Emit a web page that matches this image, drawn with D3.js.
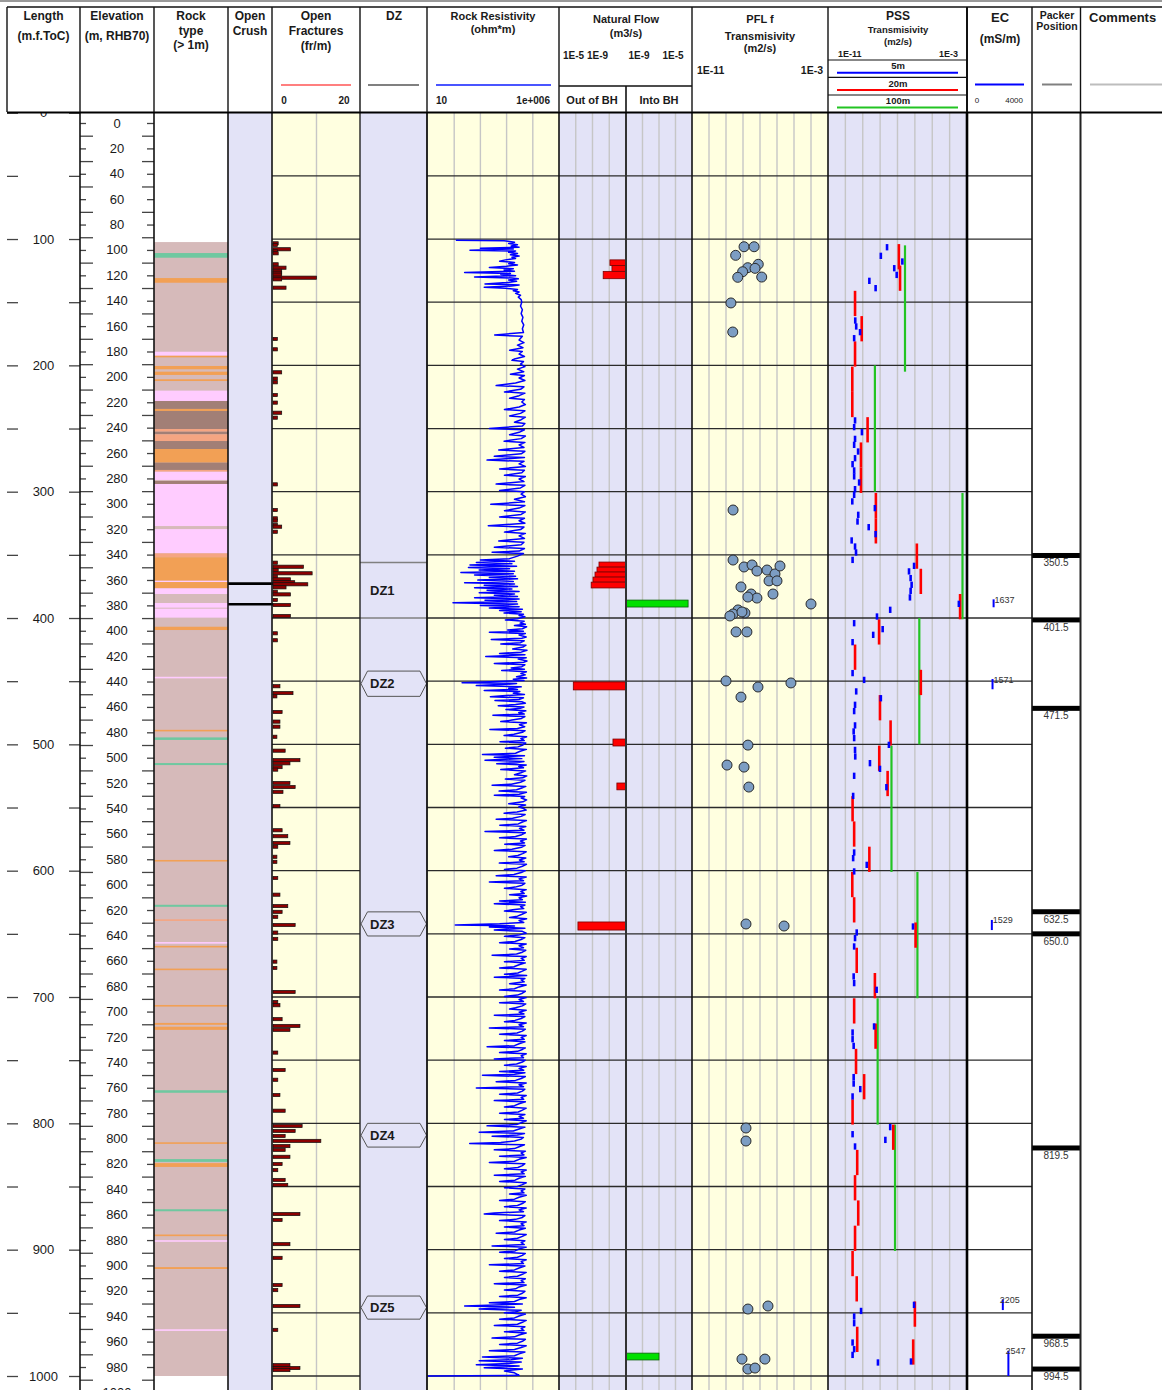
<!DOCTYPE html>
<html>
<head>
<meta charset="utf-8">
<script src="https://cdn.jsdelivr.net/npm/d3@7"></script>
<style>
  body { margin: 0; background: #fff; }
  svg { display: block; font-family: "Liberation Sans", Arial, Helvetica, sans-serif; }
</style>
</head>
<body>
<svg id="log" width="1162" height="1390"></svg>
<script>
// ---------------- Borehole data ----------------

// Lithology intervals [top m, bottom m, code]; the host rock fills the logged length first
const rockHost = [102.4, 1000, "VGN"];
const rockIntervals = [
  [111.1,114.8,"AMP"],[130.9,134.6,"PGR"],[189.2,192.4,"TGG"],[192.4,193.6,"PGR"],
  [200.5,203.1,"PGR"],[205,207.6,"PGR"],[211,212.4,"PGR"],[220,228.2,"TGG"],
  [228.2,234.5,"MGN"],[234.5,236.1,"PGR"],[236.1,250.4,"MGN"],[250.4,252.5,"KFP"],
  [252.5,254.6,"MGN"],[254.6,259.9,"KFP"],[259.9,266.2,"MGN"],[266.2,277,"PGR"],
  [277,282.8,"MGN"],[282.8,284.2,"KFP"],[284.2,290.7,"TGG"],[291.5,293.9,"MGN"],
  [293.9,327.2,"TGG"],[329.6,348.8,"TGG"],[348.8,351.9,"KFP"],[351.9,370.5,"PGR"],
  [370.5,371.5,"TGG"],[371.5,376.5,"PGR"],[376.5,381,"TGG"],[388.1,391.8,"TGG"],
  [392.6,399.7,"TGG"],[406.9,409.5,"PGR"],[446.5,447.7,"TGG"],[488.5,489.7,"PGR"],
  [494.5,496.5,"AMP"],[514.8,516.4,"AMP"],[591.5,592.7,"PGR"],[627,628.6,"AMP"],
  [638.5,639.3,"KFP"],[656.5,657.5,"TGG"],[659.5,660.5,"PGR"],[677.5,678.5,"PGR"],
  [706.3,707.3,"PGR"],[720.5,722,"PGR"],[723.5,726,"PGR"],[773.8,775.8,"AMP"],
  [815,816,"PGR"],[828.3,830.5,"AMP"],[831.5,834.5,"PGR"],[868,869.6,"AMP"],
  [888,889.3,"PGR"],[892.5,893.7,"TGG"],[913.8,915.3,"PGR"],[963,964.3,"TGG"]
];
const rockColors = { VGN:"#d6baba", AMP:"#6fc8a0", PGR:"#f2a055", TGG:"#ffccff", MGN:"#a27f76", KFP:"#f5a582" };

// Open crush zones (m)
const crushDepths = [372.8, 389.1];

// Open fractures [depth m, fractures per metre]
const fractures = [
  [103.4,1.2],[104.7,1],[108.1,4],[109.7,1],[111.3,1.2],[120,1.2],[122.7,3],[125.1,2],[126.7,2],
  [128.2,2],[130.6,10],[131.9,2],[138.5,3],[179.1,1],[187.3,1],[205.5,2],[210.5,1],[213.4,1],
  [223.5,1],[229.5,1],[237.5,2],[241.4,1],[294.2,1],[314.5,1],[321.1,1],[322.9,1],[326.4,1],
  [327.7,2],[331.7,1],[356.2,1],[359.4,7],[362,1.2],[364.6,9],[367.3,1],[369.4,4],[371.7,5],
  [373.3,8],[375.7,3],[379.2,1],[381.3,4],[385.7,1],[389.7,4],[398.4,4],[412.1,1],[417.6,1],
  [454,1.6],[459.4,4.6],[462,0.9],[474.4,2.1],[482,1.6],[486,1.6],[494,0.9],[505,2.8],
  [512.5,6.2],[515,3.9],[518,2.1],[520,1.1],[530.6,3.9],[533.8,5.1],[537.6,2.3],[548.9,1.6],
  [568,2.1],[572.7,3.4],[578.1,3.9],[581,1.1],[589,0.9],[593,0.9],[605.8,1.1],[619,1.6],
  [628,3.4],[632.6,2.1],[636.5,1.1],[643,5.1],[649,1.1],[654,1.1],[672,0.9],[677,0.9],
  [696,5.1],[704,1.1],[706.5,1.6],[717.5,2.1],[722.9,6.2],[726,3.9],[744,1.1],[757.8,2.8],
  [765.5,1.1],[777.6,1.6],[790,2.8],[802.1,6.7],[806,5.1],[810,2.8],[813.9,11],[818,3.9],
  [821,2.8],[826.5,3.9],[832.2,2.1],[837,1.1],[844.8,2.8],[848.8,3.4],[871.8,6.2],[876.5,2.1],
  [895.6,3.9],[906.5,2.1],[928,2.1],[932,1.1],[944.6,6.2],[963.5,1.1],[991.4,3.9],[993.7,6.2],
  [995.3,3.9]
];

// Deformation zones [name, top m, bottom m]
const dzZones = [["DZ1",356,400],["DZ2",442,462],["DZ3",632.6,651.7],["DZ4",800,818.8],["DZ5",936.7,955]];

// Rock resistivity log [depth m, ohm*m]
const resistivity = [
  [101,115],[101.4,8000],[102.5,20000],[103.5,12000],[104.5,26000],[105.5,15000],[106.5,30000],[107.2,1000],
  [107.8,18000],[108.8,400],[109.5,22000],[110.5,12000],[111.5,26000],[112.5,14000],[113.5,30000],[114.5,16000],
  [115.5,22000],[116.5,9000],[117.5,5400],[118.5,20000],[119.5,12000],[120.5,26000],[121.5,10000],[122.5,2200],
  [123.5,18000],[124.5,8000],[125.5,20000],[126.5,250],[127.2,14000],[128,6000],[129,22000],[130,600],
  [130.8,16000],[131.5,28000],[132.5,12000],[133.5,24000],[134.5,10000],[135.5,1500],[136.3,30000],[137.2,15000],
  [138.2,1400],[139,9000],[140,26000],[141,18000],[142,30000],[143,22000],[144.5,34000],[146,28000],[148,36000],
  [150,38000],[153,34000],[156,40000],[159,36000],[162,42000],[165,38000],[168,45000],[171,40000],[174,44000],
  [176,3500],[177,40000],[180,30000],[182,46000],[184,26000],[186,42000],[188,13000],[189,40000],[191,30000],
  [193,48000],[195,20000],[196,16000],[197,44000],[199,34000],[201,50000],[203,26000],[205,45000],[207,14000],
  [208,48000],[210,30000],[212,50000],[214,22000],[216,4000],[217,46000],[219,34000],[221,8300],[222,50000],
  [224,30000],[226,13000],[227,48000],[229,38000],[231,52000],[233,30000],[235,8300],[236,50000],[238,34000],
  [240,13000],[241,52000],[243,36000],[245,20000],[246,50000],[248,40000],[250,2200],[251,48000],[253,30000],
  [255,13000],[256,52000],[258,36000],[260,8000],[261,50000],[263,30000],[265,46000],[267,5000],[268,50000],
  [270,36000],[272,3400],[273,48000],[275,1800],[276,46000],[278,30000],[280,52000],[282,5400],[283,48000],
  [285,38000],[287,8300],[288,52000],[290,30000],[292,46000],[294,4000],[295,50000],[297,34000],[299,5400],
  [300,48000],[302,36000],[304,52000],[306,20000],[308,48000],[310,2500],[311,50000],[313,30000],[315,8300],
  [316,52000],[318,36000],[320,5400],[321,48000],[323,30000],[325,50000],[327,2000],[328,46000],[330,34000],
  [332,8300],[333,52000],[335,30000],[337,48000],[339,5000],[340,46000],[342,36000],[344,3400],[345,48000],
  [347,30000],[348,2800],[349,44000],[351,26000],
  [353,13000],[354,1000],[355,20000],[356,700],[357,16000],[358,400],[359,24000],[360,350],[361,13000],
  [362,900],[363,20000],[364,180],[365,18000],[366,600],[367,22000],[368,2200],[369,26000],[370,800],
  [371,18000],[372,250],[373,20000],[374,1400],[375,26000],[376,600],[377,16000],[378,1800],[379,30000],
  [380,900],[381,20000],[382,3400],[383,26000],[384,600],[385,30000],[386,1500],[387,24000],[388,90],
  [389,26000],[390,1000],[391,30000],[392,2200],[393,40000],[394,5400],[395,36000],[396,8000],[397,44000],
  [398,30000],[399,50000],[400.5,26000],[401.5,9000],[402.5,47000],[404,33000],[405,52000],[406,20000],[407,58000],
  [408.5,40000],[409.5,11000],[410.5,44000],[411.3,2200],[412.2,52000],[413.5,30000],[415,56000],[416,38000],
  [417,2600],[418,47000],[419.5,34000],[420.5,6000],[421.5,55000],[423,42000],[424.5,17000],[425.5,60000],
  [427,36000],[428,5400],[429,50000],[430.5,1600],[431.5,56000],[432.5,28000],[434,60000],[435,45000],[436,3400],
  [437,50000],[438.5,38000],[439.5,15000],[440.5,48000],[441.5,6500],[442.5,57000],[444,35000],[445,52000],
  [446.5,24000],[447.5,58000],[448.5,18000],[449.5,46000],[451.2,200],[451.8,24000],[452.5,9000],[453.5,700],
  [454.5,36000],[455.5,12000],[456.5,26000],[457.3,1400],[458.2,32000],[459.5,18000],[460.5,48000],[461.5,7000],
  [462.3,2400],[463.2,44000],[464.5,30000],[465.3,3600],[466.3,38000],[467.5,52000],[468.5,22000],[469.5,4800],
  [470.5,46000],[471.5,33000],[472.5,9500],[473.5,54000],[475,29000],[476,47000],[477,3000],[478,50000],
  [479.5,37000],[481,14000],[482,6000],[483,57000],[484.5,31000],[486,49000],[487.5,26000],[488.2,2300],
  [489.2,51000],[490.5,40000],[492,19000],[493,8000],[494,58000],[495.5,35000],[497,47000],[498,5600],[499,54000],
  [500.5,42000],[502,27000],[503,9000],[504,57000],[505.5,33000],[507,22000],[508,1200],[509,48000],[510.3,3400],
  [511.3,38000],[512.5,1500],[513.5,46000],[514.5,24000],[515.3,4200],[516.3,56000],[517.5,29000],[518.5,44000],
  [520,6000],[521,53000],[522.5,35000],[524,20000],[525,59000],[526.5,41000],[527.5,9000],[528.5,50000],
  [530,34000],[531.5,15000],[532.3,2800],[533.3,54000],[534.5,38000],[536,24000],[537,5200],[538,57000],
  [539.5,30000],[540.3,3400],[541.3,49000],[542.5,36000],[544,58000],[545.5,42000],[547,12000],[548,53000],
  [549.5,29000],[551,47000],[552,56000],[553.5,25000],[554.5,8000],[555.5,51000],[557,36000],[558.5,17000],
  [559.3,4000],[560.3,57000],[561.5,40000],[563,28000],[564,5500],[565,54000],[566.5,31000],[568,46000],
  [569,1500],[570,52000],[571.5,38000],[573,22000],[574,5400],[575,57000],[576.5,34000],[578,48000],[579,8500],
  [580,51000],[581.5,37000],[583,16000],[584,3400],[585,56000],[586.5,41000],[588,27000],[589,12000],[590,54000],
  [591.5,31000],[593,47000],[594,5300],[595,57000],[596.5,40000],[598,25000],[599,8300],[600,52000],[601.5,36000],
  [603,19000],[604,4000],[605,56000],[606.5,30000],[608,44000],[609,2200],[610,50000],[611.5,39000],[613,21000],
  [614,8300],[615,56000],[616.5,35000],[618,47000],[619,13000],[620,58000],[621.5,30000],[623,40000],[624,5400],
  [625,52000],[626.2,3400],[627.2,50000],[628.5,34000],[630,45000],[631,17000],[632,8300],[633,56000],
  [634.5,39000],[636,26000],[637,13000],[638,58000],[639.5,30000],[641,45000],[642,5400],[643,110],[643.7,20000],
  [644.5,2200],[645.5,50000],[647,3400],[648,40000],[649.5,56000],[651,28000],[652,8300],[653,50000],[654.5,36000],
  [656,21000],[657,5400],[658,56000],[659.5,30000],[661,44000],[662,13000],[663,54000],[664.5,40000],[666,24000],
  [667,2800],[668,56000],[669.5,36000],[671,47000],[672,8300],[673,52000],[674.5,30000],[676,19000],[677,5400],
  [678,56000],[679.5,40000],[681,27000],[682,8300],[683,58000],[684.3,3400],[685.3,50000],[686.5,36000],
  [688,47000],[689.5,13000],[690.5,56000],[692,30000],[693.5,20000],[694.5,5400],[695.5,52000],[697,40000],
  [698.5,26000],[699.5,8300],[700.5,56000],[702,30000],[703.5,44000],[704.5,5400],[705.5,54000],[707,40000],
  [708.5,22000],[709.5,13000],[710.5,56000],[712,30000],[713.5,46000],[714.5,3400],[715.5,50000],[717,36000],
  [718.5,21000],[719.5,8300],[720.5,56000],[722,30000],[723.5,44000],[724.5,2200],[725.5,52000],[727,40000],
  [728.5,25000],[729.5,5400],[730.5,56000],[732,36000],[733.5,47000],[734.5,8300],[735.5,50000],[737,30000],
  [738.5,20000],[739.3,1800],[740.3,52000],[741.5,40000],[743,26000],[744,5400],[745,56000],[746.5,36000],
  [748,44000],[749,3400],[750,52000],[751.5,40000],[753,24000],[754,8300],[755,56000],[756.5,30000],[758,45000],
  [759,5400],[760,50000],[761.2,20000],[762,1200],[763,52000],[764.5,36000],[766,22000],[767,4000],[768,56000],
  [769.5,30000],[771,44000],[772,700],[773,50000],[774.5,40000],[776,26000],[777,5400],[778,56000],[779.5,36000],
  [781,45000],[782,3400],[783,52000],[784.5,30000],[786,20000],[787,8300],[788,56000],[789.5,40000],[791,28000],
  [792,5400],[793,50000],[794.5,30000],[796,44000],[797,8300],[798,56000],[799.5,36000],[801,24000],[802,1800],
  [803,50000],[804.5,30000],[806,18000],[807,900],[808,48000],[809.3,26000],[810.2,2800],[811.2,44000],
  [812.5,36000],[814,20000],[815.2,6000],[816,390],[817,48000],[818.5,30000],[820,20000],[821,3400],[822,52000],
  [823.5,36000],[825,46000],[826,5400],[827,56000],[828.5,30000],[830,20000],[831,2200],[832,50000],[833.5,40000],
  [835,27000],[836,8300],[837,56000],[838.5,36000],[840,47000],[841,3400],[842,52000],[843.5,30000],[845,21000],
  [846,5400],[847,56000],[848.5,40000],[850,26000],[851,8300],[852,50000],[853.5,36000],[855,46000],[856,13000],
  [857,56000],[858.5,30000],[860,20000],[861,5400],[862,52000],[863.5,40000],[865,26000],[866,8300],[867,56000],
  [868.5,30000],[870,44000],[871,3400],[871.8,1400],[873,50000],[874.5,40000],[876,22000],[877,5400],[878,56000],
  [879.5,36000],[881,46000],[882,8300],[883,52000],[884.5,30000],[886,20000],[887,4000],[888,56000],[889.5,40000],
  [891,26000],[892,8300],[893,50000],[894.5,36000],[896,47000],[897,2800],[898,56000],[899.5,30000],[901,21000],
  [902,5400],[903,52000],[904.5,40000],[906,26000],[907,8300],[908,56000],[909.5,36000],[911,44000],[912,2200],
  [913,50000],[914.5,30000],[916,20000],[917,5400],[918,56000],[919.5,40000],[921,26000],[922,8300],[923,52000],
  [924.5,36000],[926,46000],[927,3400],[928,56000],[929.5,30000],[931,22000],[932,8300],[933,50000],[934.5,40000],
  [936,27000],[937,5400],[938,56000],[939.5,30000],[941,20000],[942,2200],[943,40000],[944.6,250],[945.5,20000],
  [947,900],[948,36000],[949.2,22000],[950,8300],[951,52000],[952.5,30000],[954,20000],[955,5400],[956,56000],
  [957.5,40000],[959,26000],[960,3400],[961,50000],[962.5,36000],[964,46000],[965,8300],[966,56000],[967.5,30000],
  [969,20000],[970,2800],[971,52000],[972.5,40000],[974,26000],[975,5400],[976,56000],[977.5,36000],[979,20000],
  [980,2200],[981,50000],[982.5,30000],[984,20000],[985,1200],[986,40000],[987.2,15000],[988,900],[989,36000],
  [990.2,12000],[991,700],[992,30000],[993.5,1400],[994.5,40000],[996,8300],[997.5,20000],[999.5,30000],[1000,10]
];

// Natural flow [top m, bottom m, flow m3/s]
const flowOut = [
  [116.5,120.9,9.1e-9],[121,125.6,6.9e-9],[125.6,131.4,2.3e-8],
  [355.7,359.7,4.1e-8],[359.7,363.6,5.4e-8],[363.6,367.6,7.1e-8],[367.6,371.6,9.3e-8],[371.6,376.2,1.2e-7],
  [450.6,456.9,1.4e-6],[495.8,501.3,6e-9],[530.6,536,3.5e-9],[640.6,647,7.4e-7]
];
const flowIn = [[385.8,391.3,5.8e-6],[981.9,987.3,1e-7]];

// PFL flowing-fracture transmissivity [depth m, m2/s]
const pflT = [
  [106.1,1.15e-8],[106.1,4.5e-8],[112.9,3.7e-9],[122.7,1.9e-8],[120,7.9e-8],[123.2,5.1e-8],[125.9,9.5e-9],
  [130.3,4.9e-9],[130.1,1.26e-7],[150.6,1.95e-9],[173.6,2.5e-9],[314.5,2.6e-9],[354.1,2.6e-9],[359.6,1.15e-8],
  [358,3.4e-8],[362.8,6.6e-8],[375.4,7.6e-9],[362,2.6e-7],[365.1,7.6e-7],[358.8,1.5e-6],[370.6,3.4e-7],
  [370.6,1e-6],[381,3e-8],[384.2,6.6e-8],[383.4,1.95e-8],[381,5.8e-7],[388.9,1e-4],[393.6,5.1e-9],
  [396,1.3e-8],[396.8,2.6e-9],[398.4,1.7e-9],[395.2,8.7e-9],[411,3.9e-9],[411,1.7e-8],[449.8,1e-9],
  [454.6,7.6e-8],[451.4,6.6e-6],[462.6,7.6e-9],[500.6,1.95e-8],[516.4,1.15e-9],[518,1.15e-8],[533.8,2.2e-8],
  [642.2,1.5e-8],[643.8,2.6e-6],[803.7,1.5e-8],[814,1.5e-8],[947,1.95e-8],[944.6,2.95e-7],[986.6,8.7e-9],
  [986.6,1.95e-7],[994.5,1.95e-8],[993.7,5.1e-8]
];

// PSS transmissivity by test section length [section top m, m2/s]
const pss5m = [
  [104,2.5e-8],[110.8,1.1e-8],[115.3,1.9e-7],[120.6,6.5e-8],[125.9,9e-8],[130.6,2.4e-9],[136.4,5.5e-9],
  [162,3.7e-10],[166.7,4.2e-10],[171.2,7e-10],[176,3.2e-10],[241.1,3.6e-10],[246.4,3.2e-10],[250.4,9e-10],
  [255.7,3.6e-10],[260.4,3.2e-10],[265.7,5.4e-10],[271,3.6e-10],[275.7,2.6e-10],[280.7,3.2e-10],[285.4,3.2e-10],
  [290.2,6.2e-10],[295.5,3.6e-10],[300,3.2e-10],[305.2,2.5e-10],[310.5,5e-9],[315.8,5.5e-10],[321.1,5e-10],
  [325.6,2.2e-9],[331.1,5.5e-9],[336.1,2.3e-10],[340.9,3.6e-10],[345.6,4.1e-10],[351.5,2.6e-10],[356.2,9e-7],
  [360.6,4.6e-7],[365.9,5.7e-7],[371.2,6.5e-7],[376,5.7e-7],[381.2,5.2e-7],[386.3,3.4e-4],[391,3.8e-8],
  [396.3,6.6e-9],[401.6,3.2e-10],[406.3,1.4e-8],[410.8,4e-9],[416.6,2.6e-10],[441.1,2.6e-10],[446.5,1.2e-9],
  [455.6,4.2e-10],[461,1.1e-8],[466.2,3.6e-10],[471.2,3.2e-10],[482.5,3.6e-10],[487.3,3e-10],[492.6,3.2e-10],
  [497.9,3.2e-8],[501.9,3.6e-10],[507.1,3.7e-10],[512.4,2.6e-9],[516.9,9.8e-9],[522.4,3.2e-10],[531.4,2.3e-8],
  [538.3,2.8e-10],[583.1,3.2e-10],[587.6,2.8e-10],[592.9,1.7e-9],[598.1,3.2e-10],[641.7,7.8e-7],[646.4,4.5e-10],
  [650.9,3.6e-10],[657.5,3.2e-10],[681.2,3e-10],[686.5,3.2e-10],[691.8,6.3e-9],[720.8,4.5e-9],[725.6,2.6e-10],
  [730.9,2.6e-10],[736.2,3e-10],[760.9,3e-10],[766,3e-10],[770.4,7.2e-10],[776.2,2.6e-10],[800.5,3.8e-8],
  [806.1,2.6e-10],[810.6,2e-8],[815.8,3.6e-10],[941.2,9e-7],[946,8e-10],[950.4,3.2e-10],[955.7,3.2e-10],
  [971,2.6e-10],[976.3,3.2e-10],[980.8,2.6e-10],[986.8,7.5e-9],[986,6e-7]
];
const pss20m = [
  [104,1.2e-7],[121,1.4e-7],[141,3.6e-10],[161,8.7e-10],[181,3.6e-10],[201,2.5e-10],[221,2.5e-10],[241,1.9e-9],
  [261,7.9e-10],[281,7.9e-10],[301,5.7e-9],[321,5.7e-9],[341,1.3e-6],[361,2.2e-6],[381,4e-4],[401,8.7e-9],
  [421,3.6e-10],[441,2.2e-6],[461,9.8e-9],[481,4e-8],[501,8.9e-9],[521,2.7e-8],[541,2.6e-10],[561,3.2e-10],
  [581,2.4e-9],[601,2.5e-10],[621,3.2e-10],[641,1.1e-6],[661,4.5e-10],[681,5e-9],[701,3.2e-10],[721,5.5e-9],
  [741,4.1e-10],[761,1.2e-9],[781,2.6e-10],[801,5.7e-8],[821,4.8e-10],[841,3.6e-10],[861,5.5e-10],[881,3.6e-10],
  [901,2.6e-10],[921,4.5e-10],[941,1e-6],[961,4.8e-10],[971,8e-7]
];
const pss100m = [[105,2.7e-7],[200,5e-9],[301,5.5e-4],[400,1.8e-6],[501,4.5e-8],[601,1.4e-6],[701,7.2e-9],[801,7.2e-8]];
const pssSections = [
  { len: 100, color: "#22c422", width: 2.2, data: pss100m },
  { len: 20,  color: "#ff0000", width: 2.6, data: pss20m },
  { len: 5,   color: "#0000ff", width: 2.6, data: pss5m }
];

// Electric conductivity of sampled sections [top m, bottom m, mS/m]
const ecSamples = [[385.2,391.5,1637],[448.3,456.4,1571],[639,647,1529],[939.3,947.8,2205],[980,1000,2547]];

// Packer positions (m)
const packerDepths = [350.5, 401.5, 471.5, 632.5, 650.0, 819.5, 968.5, 994.5];

// Axis tick values
const lengthLabels = d3.range(0, 1001, 100);
const lengthTicks = d3.range(0, 1001, 50);
const elevLabels = d3.range(0, 1001, 20);
const elevMajor = d3.range(10, 1001, 20);
const gridDepths = d3.range(50, 1001, 50);

// ---------------- Layout ----------------
const W = 1162, H = 1390, TOP = 112;
const col = {
  len:[7,80], elev:[80,154], rock:[154,228], crush:[228,272], frac:[272,360], dz:[360,427],
  res:[427,559], flow:[559,692], pfl:[692,828], pss:[828,967], ec:[967,1032], packer:[1032,1080], comments:[1080,1162]
};
const LAV = "#e3e3f7", YEL = "#ffffe0", GRID = "#c6c6c6", FONT_DARK = "#1a1a1a";

const y = d3.scaleLinear().domain([0, 1000]).range([112.7, 1376]);
const yElev = d3.scaleLinear().domain([0, 1000]).range([123, 1392.4]);
const xFrac = d3.scaleLinear().domain([0, 20]).range([273, 360]);
const xRes = d3.scaleLog().domain([10, 1e6]).range([428, 559]);
const xOut = d3.scaleLog().domain([1e-5, 1e-9]).range([559, 626]);
const xIn = d3.scaleLog().domain([1e-9, 1e-5]).range([626, 692]);
const xPfl = d3.scaleLog().domain([1e-11, 1e-3]).range([692, 828]);
const xPss = d3.scaleLog().domain([1e-11, 1e-3]).range([828, 967]);
const xEc = d3.scaleLinear().domain([0, 4000]).range([967, 1032]);

const svg = d3.select("#log");
const body = svg.append("g");

// column backgrounds
[["crush",LAV],["frac",YEL],["dz",LAV],["res",YEL],["flow",LAV],["pfl",YEL],["pss",LAV]].forEach(([k,c]) => {
  body.append("rect").attr("x", col[k][0]).attr("y", TOP).attr("width", col[k][1]-col[k][0]).attr("height", H-TOP).attr("fill", c);
});

// vertical grid lines inside scaled columns
const vGrid = body.append("g").attr("stroke", GRID).attr("stroke-width", 1.4);
const vx = [xFrac(10)]
  .concat([1e2,1e3,1e4,1e5].map(xRes))
  .concat([1e-6,1e-7,1e-8].map(xOut))
  .concat([1e-8,1e-7,1e-6].map(xIn))
  .concat(d3.range(-10,-3).map(e => xPfl(Math.pow(10,e))))
  .concat(d3.range(-10,-3).map(e => xPss(Math.pow(10,e))));
vx.forEach(x => vGrid.append("line").attr("x1", x).attr("x2", x).attr("y1", TOP).attr("y2", H));

// horizontal depth grid across the measurement columns
const hGrid = body.append("g").attr("stroke", "#2b2b2b").attr("stroke-width", 1.3);
[[col.frac[0], col.frac[1]], [col.res[0], col.ec[1]]].forEach(([a,b]) => {
  gridDepths.forEach(d => hGrid.append("line").attr("x1", a).attr("x2", b).attr("y1", y(d)).attr("y2", y(d)));
});

// rock type
const rockG = body.append("g");
rockG.append("rect").attr("x", col.rock[0]).attr("width", col.rock[1]-col.rock[0])
  .attr("y", y(rockHost[0])).attr("height", y(rockHost[1]) - y(rockHost[0])).attr("fill", rockColors[rockHost[2]]);
rockG.selectAll("rect.lay").data(rockIntervals).join("rect").attr("class","lay")
  .attr("x", col.rock[0]).attr("width", col.rock[1]-col.rock[0])
  .attr("y", d => y(d[0])).attr("height", d => Math.max(1.6, y(d[1]) - y(d[0])))
  .attr("fill", d => rockColors[d[2]]);

// open crush
body.selectAll("line.crush").data(crushDepths).join("line").attr("class","crush")
  .attr("x1", col.crush[0]).attr("x2", col.crush[1]+1).attr("y1", d => y(d)).attr("y2", d => y(d))
  .attr("stroke", "#000").attr("stroke-width", 2.6);

// open fractures
body.selectAll("rect.frac").data(fractures).join("rect").attr("class","frac")
  .attr("x", xFrac(0)).attr("y", d => y(d[0]) - 1.6).attr("width", d => xFrac(d[1]) - xFrac(0)).attr("height", 3.2)
  .attr("fill", "#8b0000").attr("stroke", "#111").attr("stroke-width", 0.7);

// deformation zones
const dzG = body.append("g");
dzZones.forEach(([name, top, bot]) => {
  const y0 = y(top), y1 = y(bot), ym = (y0 + y1) / 2;
  if (bot - top > 30) {
    dzG.append("line").attr("x1", col.dz[0]).attr("x2", col.dz[1]).attr("y1", y0).attr("y2", y0).attr("stroke", "#808080").attr("stroke-width", 1.6);
    dzG.append("line").attr("x1", col.dz[0]).attr("x2", col.dz[1]).attr("y1", y1).attr("y2", y1).attr("stroke", "#808080").attr("stroke-width", 1.6);
  } else {
    const a = col.dz[0] + 1, b = col.dz[1] - 0.5;
    dzG.append("path")
      .attr("d", `M${a},${ym} L${a+6.5},${y0} L${b-6.5},${y0} L${b},${ym} L${b-6.5},${y1} L${a+6.5},${y1} Z`)
      .attr("fill", LAV).attr("stroke", "#555").attr("stroke-width", 1);
  }
  dzG.append("text").attr("x", 370).attr("y", ym).attr("dy", "0.36em").attr("font-size", 13).attr("font-weight", "bold")
    .attr("fill", FONT_DARK).text(name);
});

// resistivity log
body.append("path").datum(resistivity)
  .attr("d", d3.line().x(d => xRes(d[1])).y(d => y(d[0])))
  .attr("fill", "none").attr("stroke", "#0000ff").attr("stroke-width", 1.5).attr("stroke-linejoin", "round");

// natural flow bars
body.selectAll("rect.out").data(flowOut).join("rect").attr("class","out")
  .attr("x", d => xOut(d[2])).attr("width", d => xOut(1e-9) - xOut(d[2]))
  .attr("y", d => y(d[0])).attr("height", d => y(d[1]) - y(d[0]))
  .attr("fill", "#ff0000").attr("stroke", "#7a0000").attr("stroke-width", 0.8);
body.selectAll("rect.in").data(flowIn).join("rect").attr("class","in")
  .attr("x", xIn(1e-9)).attr("width", d => xIn(d[2]) - xIn(1e-9))
  .attr("y", d => y(d[0])).attr("height", d => y(d[1]) - y(d[0]))
  .attr("fill", "#00e000").attr("stroke", "#0a600a").attr("stroke-width", 0.8);

// PFL transmissivity
body.selectAll("circle.pfl").data(pflT).join("circle").attr("class","pfl")
  .attr("cx", d => xPfl(d[1])).attr("cy", d => y(d[0])).attr("r", 5)
  .attr("fill", "#7c9dc3").attr("stroke", "#2a2a2a").attr("stroke-width", 1);

// PSS transmissivity by section length
pssSections.forEach(s => {
  body.append("g").selectAll("line").data(s.data).join("line")
    .attr("x1", d => xPss(d[1])).attr("x2", d => xPss(d[1]))
    .attr("y1", d => y(d[0])).attr("y2", d => y(d[0] + s.len))
    .attr("stroke", s.color).attr("stroke-width", s.width);
});

// EC samples
const ecG = body.append("g");
ecG.selectAll("line").data(ecSamples).join("line")
  .attr("x1", d => xEc(d[2])).attr("x2", d => xEc(d[2])).attr("y1", d => y(d[0])).attr("y2", d => y(d[1]))
  .attr("stroke", "#0000ff").attr("stroke-width", 2);
ecG.selectAll("text").data(ecSamples).join("text")
  .attr("x", d => xEc(d[2]) + (d[2] > 2000 ? -3 : 1)).attr("y", d => y(d[0]) + 3.5)
  .attr("font-size", 9).attr("fill", "#333").text(d => d[2]);

// packer positions
const pkG = body.append("g");
pkG.selectAll("rect").data(packerDepths).join("rect")
  .attr("x", col.packer[0]).attr("width", col.packer[1]-col.packer[0])
  .attr("y", d => y(d) - 2.5).attr("height", 5).attr("fill", "#000");
pkG.selectAll("text").data(packerDepths).join("text")
  .attr("x", (col.packer[0]+col.packer[1])/2).attr("y", d => y(d) + 11).attr("text-anchor", "middle")
  .attr("font-size", 10).attr("fill", "#333").text(d => d.toFixed(1));

// length axis (ticks on both sides of the column, labels centred)
const lenAxisL = d3.axisRight(y).tickValues(lengthTicks).tickSize(11).tickFormat("");
const lenAxisR = d3.axisLeft(y).tickValues(lengthTicks).tickSize(11).tickFormat("");
body.append("g").attr("transform", `translate(${col.len[0]},0)`).call(lenAxisL).call(g => g.select(".domain").remove());
body.append("g").attr("transform", `translate(${col.len[1]},0)`).call(lenAxisR).call(g => g.select(".domain").remove());
body.selectAll("text.lenlab").data(lengthLabels).join("text").attr("class","lenlab")
  .attr("x", 43.5).attr("y", d => y(d)).attr("dy", "0.35em").attr("text-anchor", "middle")
  .attr("font-size", 13).attr("fill", FONT_DARK).text(d => d);

// elevation axis
const elMinorL = d3.axisRight(yElev).tickValues(elevLabels).tickSize(6).tickFormat("");
const elMinorR = d3.axisLeft(yElev).tickValues(elevLabels).tickSize(7).tickFormat("");
const elMajorL = d3.axisRight(yElev).tickValues(elevMajor).tickSize(13).tickFormat("");
const elMajorR = d3.axisLeft(yElev).tickValues(elevMajor).tickSize(12).tickFormat("");
[[elMinorL, col.elev[0]], [elMajorL, col.elev[0]], [elMinorR, col.elev[1]], [elMajorR, col.elev[1]]].forEach(([ax, x]) => {
  body.append("g").attr("transform", `translate(${x},0)`).call(ax).call(g => g.select(".domain").remove());
});
body.selectAll("text.ellab").data(elevLabels).join("text").attr("class","ellab")
  .attr("x", 117).attr("y", d => yElev(d)).attr("dy", "0.35em").attr("text-anchor", "middle")
  .attr("font-size", 13).attr("fill", FONT_DARK).text(d => d);
body.selectAll(".tick line").attr("stroke", "#444").attr("stroke-width", 1.3);

// column borders in the body
const borders = [[80,1.6,"#111"],[154,1.6,"#111"],[228,1.6,"#111"],[272,1.6,"#111"],[360,1.4,"#222"],[427,1.8,"#111"],
  [559,1.6,"#111"],[626,2,"#333"],[692,1.6,"#111"],[828,1.6,"#111"],[967,2.6,"#000"],[1032,1.6,"#111"],[1080.5,2,"#222"]];
borders.forEach(([x,w,c]) => body.append("line").attr("x1", x).attr("x2", x).attr("y1", TOP).attr("y2", H).attr("stroke", c).attr("stroke-width", w));

// ---------------- Header ----------------
const head = svg.append("g");
head.append("rect").attr("x", 0).attr("y", 0).attr("width", W).attr("height", TOP).attr("fill", "#fff");
head.append("line").attr("x1", 0).attr("x2", W).attr("y1", 1).attr("y2", 1).attr("stroke", "#9a9a9a").attr("stroke-width", 2);
head.append("line").attr("x1", 7).attr("x2", W).attr("y1", 7).attr("y2", 7).attr("stroke", "#111").attr("stroke-width", 1.4);
head.append("line").attr("x1", 7).attr("x2", W).attr("y1", 112.5).attr("y2", 112.5).attr("stroke", "#000").attr("stroke-width", 2);
[7,80,154,228,272,360,427,559,692,828,967,1032,1080.5].forEach(x =>
  head.append("line").attr("x1", x).attr("x2", x).attr("y1", 7).attr("y2", 112).attr("stroke", "#111").attr("stroke-width", x === 967 ? 2 : 1.4));
head.append("line").attr("x1", 559).attr("x2", 692).attr("y1", 86).attr("y2", 86).attr("stroke", "#111").attr("stroke-width", 1.3);
head.append("line").attr("x1", 626).attr("x2", 626).attr("y1", 86).attr("y2", 112).attr("stroke", "#111").attr("stroke-width", 1.6);
[60, 77.3, 95].forEach(v => head.append("line").attr("x1", 828).attr("x2", 967).attr("y1", v).attr("y2", v).attr("stroke", "#111").attr("stroke-width", 1.2));

const headText = [
  ["Length",43.5,16,12,"middle",true],["(m.f.ToC)",43.5,36,12,"middle",true],
  ["Elevation",117,16,12,"middle",true],["(m, RHB70)",117,36,12,"middle",true],
  ["Rock",191,16,12,"middle",true],["type",191,31,12,"middle",true],["(> 1m)",191,45,12,"middle",true],
  ["Open",250,16,12,"middle",true],["Crush",250,31,12,"middle",true],
  ["Open",316,16,12,"middle",true],["Fractures",316,31,12,"middle",true],["(fr/m)",316,46,12,"middle",true],
  ["0",284,100.5,10,"middle",true],["20",344,100.5,10,"middle",true],
  ["DZ",394,16,12,"middle",true],
  ["Rock Resistivity",493,16,11,"middle",true],["(ohm*m)",493,29.5,11,"middle",true],
  ["10",436,100.5,10,"start",true],["1e+006",550,100.5,10,"end",true],
  ["Natural Flow",626,19,11,"middle",true],["(m3/s)",626,33,11,"middle",true],
  ["1E-5",573.5,55.5,10,"middle",true],["1E-9",597.5,55.5,10,"middle",true],
  ["1E-9",639,55.5,10,"middle",true],["1E-5",673,55.5,10,"middle",true],
  ["Out of BH",592,100,11,"middle",true],["Into BH",659,100,11,"middle",true],
  ["PFL f",760,19,11,"middle",true],["Transmisivity",760,36,11,"middle",true],["(m2/s)",760,48.5,11,"middle",true],
  ["1E-11",697,70,10.5,"start",true],["1E-3",823,70,10.5,"end",true],
  ["PSS",898,16,12,"middle",true],["Transmisivity",898,29.5,9.5,"middle",true],["(m2/s)",898,41.5,9.5,"middle",true],
  ["1E-11",838,54,9,"start",true],["1E-3",958,54,9,"end",true],
  ["5m",898,66,9.5,"middle",true],["20m",898,83.5,9.5,"middle",true],["100m",898,101,9.5,"middle",true],
  ["EC",1000,17,13,"middle",true],["(mS/m)",1000,39,12,"middle",true],
  ["0",977,100.5,8,"middle",false],["4000",1023,100.5,8,"end",false],
  ["Packer",1057,15,10.5,"middle",true],["Position",1057,26,10.5,"middle",true],
  ["Comments",1089,17,13,"start",true]
];
head.selectAll("text").data(headText).join("text")
  .attr("x", d => d[1]).attr("y", d => d[2]).attr("dy", "0.35em").attr("font-size", d => d[3])
  .attr("text-anchor", d => d[4]).attr("font-weight", d => d[5] ? "bold" : "normal")
  .attr("fill", FONT_DARK).text(d => d[0]);

// legend swatches in the header
const legend = [
  [281,351,85,"#ff7f7f",2],[368,419,85,"#808080",2],[436,551,85,"#4a55ff",2.2],
  [837,958,72.7,"#0000ff",2],[837,958,90,"#ff0000",2],[837,958,107.6,"#22c422",2],
  [975,1024,84.5,"#0000ff",2],[1042,1072,84.5,"#808080",2],[1090,1162,84.5,"#bdbdbd",2]
];
legend.forEach(([a,b,v,c,w]) => head.append("line").attr("x1", a).attr("x2", b).attr("y1", v).attr("y2", v).attr("stroke", c).attr("stroke-width", w));
</script>
</body>
</html>
